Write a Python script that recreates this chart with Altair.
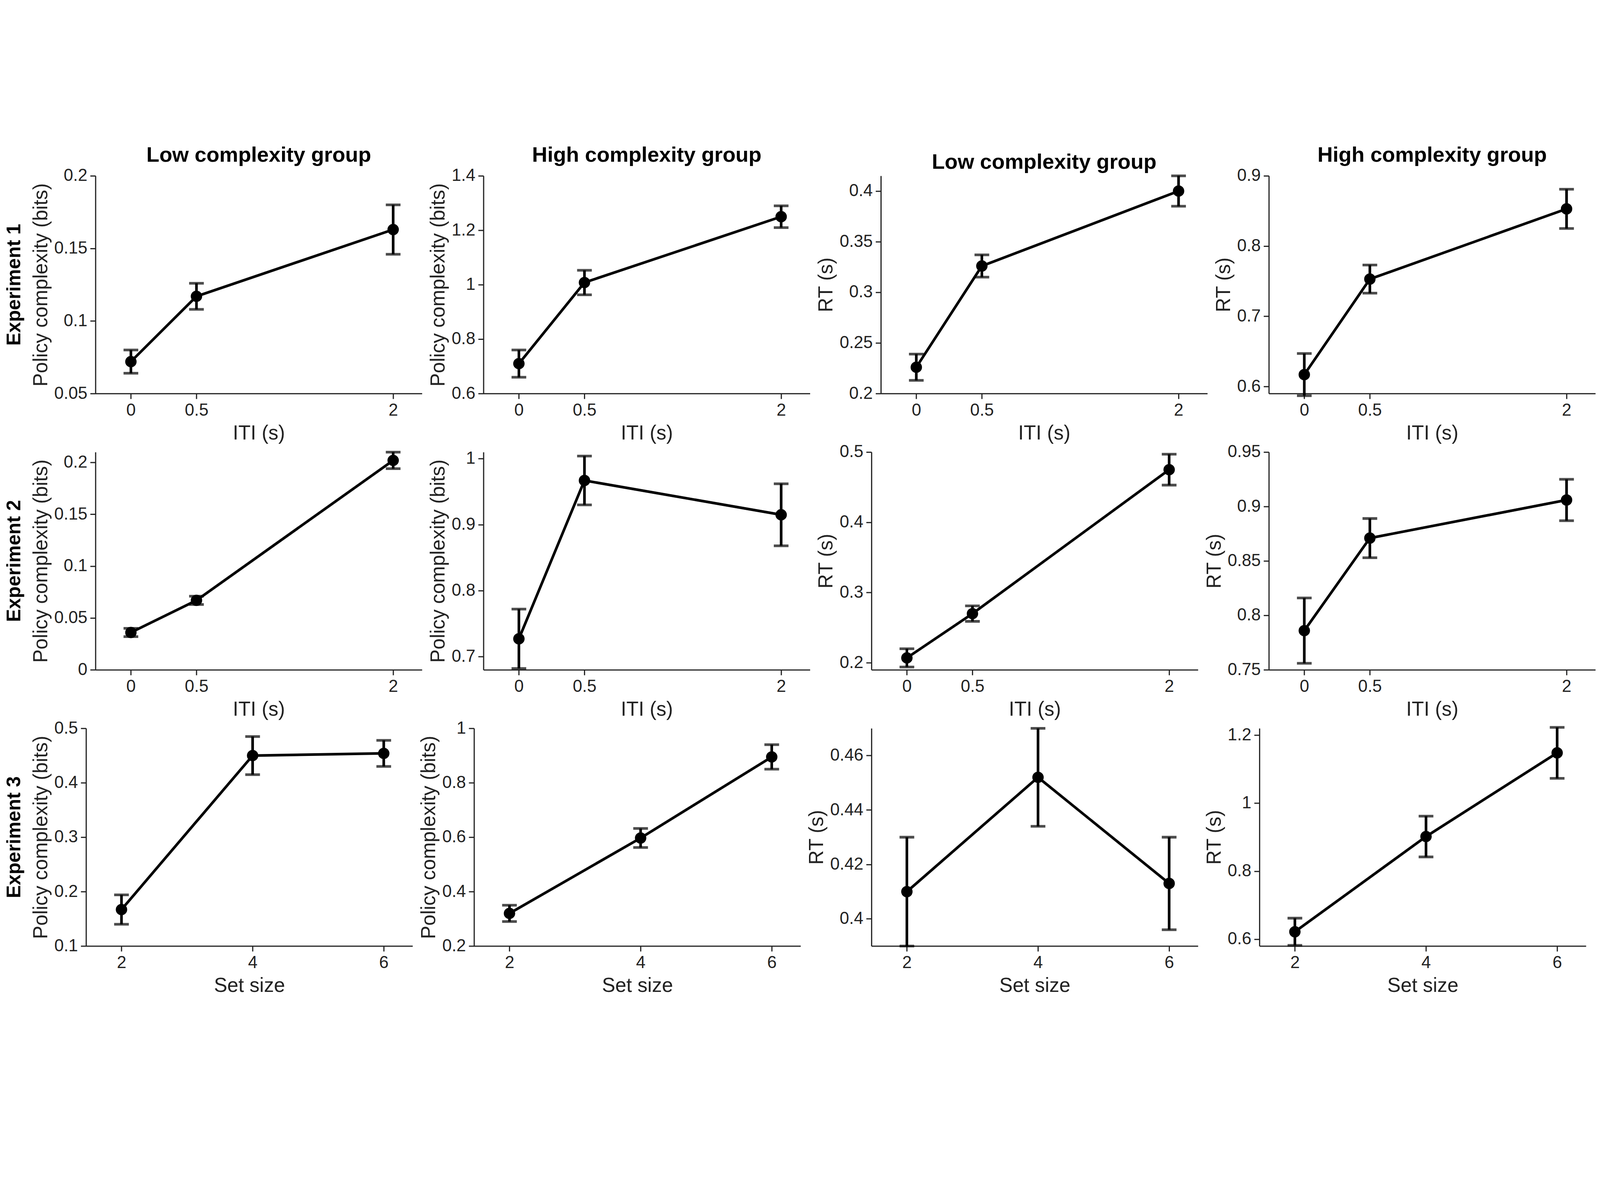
import altair as alt
import pandas as pd

iti = [0, 0.5, 2]
setsize = [2, 4, 6]

# rows: experiments; cols: low PC, high PC, low RT, high RT
means = [
    [[0.072, 0.117, 0.163], [0.71, 1.008, 1.25], [0.226, 0.326, 0.400], [0.617, 0.753, 0.853]],
    [[0.036, 0.067, 0.202], [0.727, 0.967, 0.915], [0.207, 0.270, 0.475], [0.786, 0.871, 0.906]],
    [[0.167, 0.450, 0.454], [0.320, 0.597, 0.895], [0.410, 0.452, 0.413], [0.622, 0.902, 1.148]],
]
errs = [
    [[0.008, 0.009, 0.017], [0.05, 0.045, 0.04], [0.013, 0.011, 0.015], [0.030, 0.020, 0.028]],
    [[0.004, 0.004, 0.008], [0.045, 0.037, 0.047], [0.013, 0.011, 0.022], [0.030, 0.018, 0.019]],
    [[0.027, 0.035, 0.024], [0.030, 0.035, 0.045], [0.020, 0.018, 0.017], [0.040, 0.060, 0.075]],
]
ydomains = [
    [[0.05, 0.2], [0.6, 1.4], [0.2, 0.415], [0.59, 0.9]],
    [[0, 0.21], [0.68, 1.01], [0.19, 0.5], [0.75, 0.95]],
    [[0.1, 0.5], [0.2, 1.0], [0.39, 0.47], [0.58, 1.22]],
]
yticks = [
    [[0.05, 0.1, 0.15, 0.2], [0.6, 0.8, 1.0, 1.2, 1.4], [0.2, 0.25, 0.3, 0.35, 0.4], [0.6, 0.7, 0.8, 0.9]],
    [[0, 0.05, 0.1, 0.15, 0.2], [0.7, 0.8, 0.9, 1.0], [0.2, 0.3, 0.4, 0.5], [0.75, 0.8, 0.85, 0.9, 0.95]],
    [[0.1, 0.2, 0.3, 0.4, 0.5], [0.2, 0.4, 0.6, 0.8, 1.0], [0.4, 0.42, 0.44, 0.46], [0.6, 0.8, 1.0, 1.2]],
]
col_titles = ["Low complexity group", "High complexity group", "Low complexity group", "High complexity group"]
ytitles = ["Policy complexity (bits)", "Policy complexity (bits)", "RT (s)", "RT (s)"]
row_labels = ["Experiment 1", "Experiment 2", "Experiment 3"]

W, H = 1110, 740
SW = 9
FS = 58


def panel(r, c):
    xs = setsize if r == 2 else iti
    xdom = [1.46, 6.44] if r == 2 else [-0.27, 2.22]
    xtitle = "Set size" if r == 2 else "ITI (s)"
    df = pd.DataFrame({
        "x": xs,
        "y": means[r][c],
        "lo": [m - e for m, e in zip(means[r][c], errs[r][c])],
        "hi": [m + e for m, e in zip(means[r][c], errs[r][c])],
    })
    xenc = alt.X("x:Q", scale=alt.Scale(domain=xdom, nice=False, zero=False),
                 axis=alt.Axis(values=xs, title=xtitle, format="~g", grid=False))
    yscale = alt.Scale(domain=ydomains[r][c], nice=False, zero=False)
    yax = alt.Axis(values=yticks[r][c], title=ytitles[c], format="~g", grid=False)
    base = alt.Chart(df)
    line = base.mark_line(color="black", strokeWidth=SW).encode(x=xenc, y=alt.Y("y:Q", scale=yscale, axis=yax))
    pts = base.mark_point(filled=True, color="black", size=1500, opacity=1).encode(x="x:Q", y="y:Q")
    rule = base.mark_rule(color="black", strokeWidth=SW).encode(x="x:Q", y="lo:Q", y2="hi:Q")
    cap1 = base.mark_tick(color="black", thickness=SW, size=50, orient="horizontal").encode(x="x:Q", y="lo:Q")
    cap2 = base.mark_tick(color="black", thickness=SW, size=50, orient="horizontal").encode(x="x:Q", y="hi:Q")
    ch = alt.layer(line, rule, cap1, cap2, pts).properties(width=W, height=H)
    if r == 0:
        ch = ch.properties(title=alt.TitleParams(col_titles[c], fontSize=72, fontWeight="bold", font="Arial",
                                                 offset=4, frame="group"))
    return ch


def label(r):
    df = pd.DataFrame({"t": [row_labels[r]]})
    return alt.Chart(df).mark_text(angle=270, fontSize=66, fontWeight="bold", font="Arial").encode(
        text="t:N", x=alt.value(20), y=alt.value(H / 2)
    ).properties(width=30, height=H)


rows = []
for r in range(3):
    rows.append(alt.hconcat(label(r), *[panel(r, c) for c in range(4)], spacing=22))

chart = alt.vconcat(*rows, spacing=0).configure_view(stroke=None).configure_axis(
    labelFontSize=FS, titleFontSize=68, labelFont="Arial", titleFont="Arial",
    labelColor="#222", titleColor="#222", domainColor="#222", tickColor="#222",
    domainWidth=4, tickWidth=4, tickSize=18, labelPadding=10, titleFontWeight="normal"
).configure_axisX(titlePadding=16).configure_axisY(titlePadding=10).properties(padding=5, background="white")

chart.save("out.html", embed_options={"renderer": "svg", "actions": False})
